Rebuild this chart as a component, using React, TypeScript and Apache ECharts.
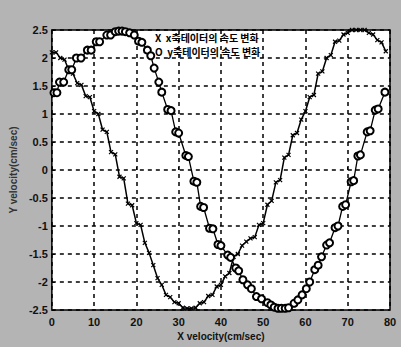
import React, { useEffect, useRef } from "react";
import * as echarts from "echarts";

const xTicks = [0, 10, 20, 30, 40, 50, 60, 70, 80];
const yTicks = [-2.5, -2, -1.5, -1, -0.5, 0, 0.5, 1, 1.5, 2, 2.5];

const seriesXName = "x축테이터의 속도 변화";
const seriesYName = "y축테이터의 속도 변화";

// X series (staircase line), [x, value]
const xVelocity: number[][] = [
  [0, 2.1], [1, 2.1], [2, 2.0], [3, 1.97], [4, 1.79], [5, 1.72], [6, 1.55], [7, 1.52],
  [8, 1.32], [9, 1.3], [10, 1.05], [11, 1.0], [12, 0.72], [13, 0.68], [14, 0.32], [15, 0.28],
  [16, -0.12], [17, -0.15], [18, -0.6], [19, -0.63], [20, -0.95], [21, -0.98], [22, -1.3],
  [23, -1.48], [24, -1.7], [25, -1.93], [26, -2.05], [27, -2.23], [28, -2.27], [29, -2.36],
  [30, -2.38], [31, -2.46], [32, -2.47], [33, -2.47], [34, -2.46], [35, -2.38], [36, -2.36],
  [37, -2.25], [38, -2.23], [39, -2.08], [40, -2.05], [41, -1.9], [42, -1.84], [43, -1.55],
  [44, -1.5], [45, -1.35], [46, -1.28], [47, -1.22], [48, -1.2], [49, -0.98], [50, -0.95],
  [51, -0.62], [52, -0.55], [53, -0.22], [54, -0.18], [55, 0.22], [56, 0.27], [57, 0.62],
  [58, 0.66], [59, 0.9], [60, 1.05], [61, 1.3], [62, 1.34], [63, 1.72], [64, 1.76], [65, 2.0],
  [66, 2.05], [67, 2.29], [68, 2.31], [69, 2.42], [70, 2.45], [71, 2.5], [72, 2.5], [73, 2.5],
  [74, 2.5], [75, 2.45], [76, 2.42], [77, 2.32], [78, 2.28], [79, 2.12],
];

// O series (circles), [x, value]
const yVelocity: number[][] = [
  [0.5, 1.38], [1.2, 1.38], [1.8, 1.57], [2.8, 1.57], [4.0, 1.79], [4.7, 1.79], [5.8, 2.0],
  [6.9, 2.0], [8.4, 2.14], [9.3, 2.14], [10.5, 2.29], [11.3, 2.29], [13.0, 2.41], [13.9, 2.41],
  [15.0, 2.47], [15.8, 2.48], [16.6, 2.48], [17.4, 2.47], [18.4, 2.45], [19.5, 2.41],
  [20.5, 2.3], [21.3, 2.28], [22.6, 2.14], [23.4, 2.04], [24.2, 1.82], [25.3, 1.57],
  [26.0, 1.39], [27.4, 1.08], [28.2, 1.06], [29.3, 0.68], [30.0, 0.66], [31.7, 0.26],
  [32.3, 0.24], [33.6, -0.2], [34.3, -0.22], [35.2, -0.65], [35.9, -0.67], [37.3, -1.04],
  [38.1, -1.05], [39.3, -1.33], [40.0, -1.35], [41.6, -1.52], [42.3, -1.56], [43.5, -1.75],
  [44.2, -1.8], [45.2, -1.96], [46.3, -2.05], [47.2, -2.12], [48.4, -2.26], [49.6, -2.3],
  [51.0, -2.37], [51.8, -2.41], [52.6, -2.45], [53.5, -2.47], [54.3, -2.47], [55.2, -2.47],
  [56.0, -2.46], [57.3, -2.38], [58.2, -2.32], [59.2, -2.23], [60.2, -2.12], [61.0, -2.0],
  [62.2, -1.78], [63.0, -1.7], [63.8, -1.55], [65.0, -1.34], [65.7, -1.3], [67.0, -1.03],
  [67.7, -1.0], [68.8, -0.65], [69.5, -0.62], [70.8, -0.21], [71.4, -0.19], [72.4, 0.25],
  [73.0, 0.27], [74.6, 0.68], [75.3, 0.7], [76.5, 1.07], [77.2, 1.09], [78.8, 1.39],
];

const fmtY = (v: number) => {
  const found = yTicks.find((t) => Math.abs(t - v) < 1e-9);
  return found === undefined ? "" : String(found);
};

export default function App() {
  const ref = useRef<HTMLDivElement>(null);
  useEffect(() => {
    if (!ref.current) return;
    const chart = echarts.init(ref.current, null, { renderer: "svg" });
    const font = "Liberation Sans, Arial, sans-serif";
    const legendFont = "bold 10px 'Noto Sans CJK KR', sans-serif";
    chart.setOption({
      animation: false,
      backgroundColor: "#b4b4b4",
      grid: {
        left: 43,
        top: 30,
        width: 347,
        height: 280,
        show: true,
        backgroundColor: "#ffffff",
        borderColor: "#000",
        borderWidth: 1.5,
      },
      xAxis: {
        type: "value",
        min: xTicks[0],
        max: xTicks[xTicks.length - 1],
        interval: 10,
        name: "X velocity(cm/sec)",
        nameLocation: "middle",
        nameGap: 17,
        nameTextStyle: { color: "#111", fontSize: 10, fontWeight: "bold", fontFamily: font },
        axisLine: { show: false },
        axisTick: { show: true, inside: true, length: 3, lineStyle: { color: "#000" } },
        axisLabel: { color: "#111", fontSize: 11, fontWeight: "bold", fontFamily: font, margin: 6 },
        splitLine: { show: true, lineStyle: { color: "#000", width: 1.5, type: [4, 4] } },
      },
      yAxis: {
        type: "value",
        min: -2.5,
        max: 2.5,
        interval: 0.5,
        name: "Y velocity(cm/sec)",
        nameLocation: "middle",
        nameGap: 28,
        nameRotate: 90,
        nameTextStyle: { color: "#333", fontSize: 10, fontWeight: "bold", fontFamily: font },
        axisLine: { show: false },
        axisTick: { show: true, inside: true, length: 3, lineStyle: { color: "#000" } },
        axisLabel: {
          color: "#111",
          fontSize: 11,
          fontWeight: "bold",
          fontFamily: font,
          margin: 4,
          formatter: fmtY,
        },
        splitLine: { show: true, lineStyle: { color: "#000", width: 1.5, type: [4, 4] } },
      },
      series: [
        {
          name: seriesXName,
          type: "line",
          data: xVelocity,
          symbol: "path://M0,0L10,10M10,0L0,10",
          symbolSize: 4,
          itemStyle: { color: "#000", borderColor: "#000", borderWidth: 1.2 },
          lineStyle: { color: "#000", width: 1.5 },
          clip: false,
        },
        {
          name: seriesYName,
          type: "line",
          data: yVelocity,
          symbol: "emptyCircle",
          symbolSize: 7,
          itemStyle: { color: "#000", borderColor: "#000", borderWidth: 1.2 },
          lineStyle: { color: "#000", width: 1.3 },
          clip: false,
        },
      ],
      graphic: [
        {
          type: "text",
          left: 155,
          top: 32,
          style: {
            text: "X  " + seriesXName,
            fill: "#000",
            font: legendFont,
          },
          z: 100,
        },
        {
          type: "text",
          left: 155,
          top: 46,
          style: {
            text: "O  " + seriesYName,
            fill: "#000",
            font: legendFont,
          },
          z: 100,
        },
      ],
    });
    return () => chart.dispose();
  }, []);
  return (
    <div
      ref={ref}
      style={{ position: "absolute", left: 0, top: 0, width: 401, height: 347 }}
    />
  );
}
